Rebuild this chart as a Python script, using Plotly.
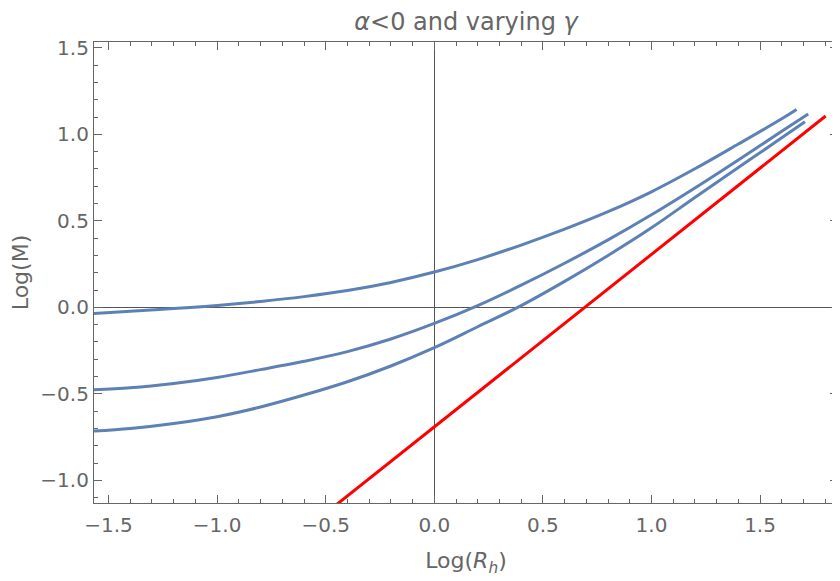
import plotly.graph_objs as go

# curves: Log(R_h) -> Log(M)
x_top = [-1.567, -1.4, -1.2, -1.0, -0.8, -0.6, -0.4, -0.2, 0.0, 0.2, 0.4, 0.6, 0.8, 1.0, 1.2, 1.4, 1.6, 1.668]
y_top = [-0.035, -0.022, -0.007, 0.011, 0.034, 0.062, 0.097, 0.144, 0.204, 0.276, 0.360, 0.452, 0.553, 0.668, 0.801, 0.944, 1.090, 1.144]

x_mid = [-1.567, -1.4, -1.2, -1.0, -0.8, -0.6, -0.4, -0.2, 0.0, 0.2, 0.4, 0.6, 0.8, 1.0, 1.2, 1.4, 1.6, 1.722]
y_mid = [-0.476, -0.465, -0.440, -0.405, -0.360, -0.312, -0.256, -0.183, -0.093, 0.010, 0.128, 0.255, 0.390, 0.535, 0.690, 0.852, 1.018, 1.118]

x_low = [-1.567, -1.4, -1.2, -1.0, -0.8, -0.6, -0.4, -0.2, 0.0, 0.2, 0.4, 0.6, 0.8, 1.0, 1.2, 1.4, 1.6, 1.707]
y_low = [-0.715, -0.700, -0.671, -0.632, -0.576, -0.507, -0.430, -0.339, -0.233, -0.112, 0.010, 0.150, 0.300, 0.460, 0.635, 0.808, 0.980, 1.073]

x_red = [-0.45, 1.802]
y_red = [-1.14, 1.106]

blue = '#5E81B5'
grey = '#666666'
font = 'DejaVu Sans, sans-serif'

data = [
    go.Scatter(x=x_top, y=y_top, mode='lines', line=dict(color=blue, width=3, shape='spline')),
    go.Scatter(x=x_mid, y=y_mid, mode='lines', line=dict(color=blue, width=3, shape='spline')),
    go.Scatter(x=x_low, y=y_low, mode='lines', line=dict(color=blue, width=3, shape='spline')),
    go.Scatter(x=x_red, y=y_red, mode='lines', line=dict(color='#FF0000', width=3)),
]

axis_style = dict(
    showgrid=False,
    zeroline=True,
    zerolinecolor='#555555',
    zerolinewidth=1,
    showline=True,
    linecolor=grey,
    linewidth=1.2,
    mirror='ticks',
    ticks='inside',
    ticklen=8,
    tickwidth=1,
    tickcolor=grey,
    dtick=0.5,
    tick0=0,
    tickformat='.1f',
    minor=dict(dtick=0.1, ticks='inside', ticklen=4, tickcolor=grey, showgrid=False),
    tickfont=dict(size=20, color=grey, family=font),
    automargin=False,
)

# page body adds an 8px margin, so the figure is drawn 8px smaller
layout = go.Layout(
    width=832,
    height=573,
    showlegend=False,
    plot_bgcolor='white',
    paper_bgcolor='white',
    margin=dict(l=86, r=2, t=34, b=78),
    title=dict(
        text='<i>α</i>&lt;0 and varying <i>γ</i>',
        font=dict(size=24, color=grey, family=font),
        x=0.5, xref='paper', y=0.977, yref='container', xanchor='center', yanchor='middle',
    ),
    xaxis=dict(
        axis_style,
        range=[-1.567, 1.859],
        ticklabelstandoff=4,
        title=dict(text='Log(<i>R<sub>h</sub></i>)', font=dict(size=22, color=grey, family=font), standoff=16),
    ),
    yaxis=dict(
        axis_style,
        range=[-1.131, 1.534],
        title=dict(text='Log(M)', font=dict(size=22, color=grey, family=font), standoff=22),
    ),
)

fig = go.Figure(data=data, layout=layout)
fig.write_html("out.html")
